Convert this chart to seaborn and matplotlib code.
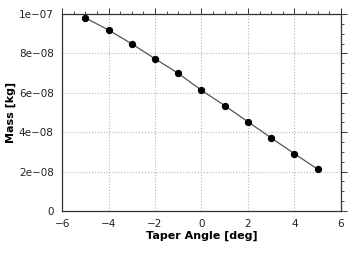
import numpy as np
import pandas as pd
import seaborn as sns
import matplotlib.pyplot as plt
from matplotlib.ticker import MultipleLocator, FuncFormatter

# taper angle sweep, mass
taper_angle = [-5, -4, -3, -2, -1, 0, 1, 2, 3, 4, 5]
mass = [9.81e-8, 9.19e-8, 8.49e-8, 7.73e-8, 6.99e-8, 6.13e-8,
        5.35e-8, 4.53e-8, 3.71e-8, 2.91e-8, 2.12e-8]
y_ticks = [0, 2e-8, 4e-8, 6e-8, 8e-8, 1e-7]
y_labels = ['0', '2e\u221208', '4e\u221208', '6e\u221208', '8e\u221208', '1e\u221207']

df = pd.DataFrame({'angle': taper_angle, 'mass': mass})

sns.set_style('white')
plt.rcParams['font.family'] = ['DejaVu Sans']

fig = plt.figure(figsize=(3.63, 2.56), dpi=100)
ax = fig.add_axes([0.171, 0.176, 0.768, 0.769])

sns.lineplot(data=df, x='angle', y='mass', ax=ax, color='#555555', linewidth=0.9,
             marker='o', markersize=4.5, markerfacecolor='black', markeredgecolor='black')

ax.set_xlim(-6, 6)
ax.set_ylim(0, 1e-7)
ax.xaxis.set_major_locator(MultipleLocator(2))
ax.xaxis.set_minor_locator(MultipleLocator(0.5))
ax.set_yticks(y_ticks)
ax.set_yticklabels(y_labels)
ax.yaxis.set_minor_locator(MultipleLocator(5e-9))
ax.xaxis.set_major_formatter(FuncFormatter(lambda v, p: f'{v:g}'.replace('-', '\u2212')))

ax.grid(True, which='major', color='#b5b5b5', linestyle=':', linewidth=0.8)
for s in ax.spines.values():
    s.set_color('#333333')
    s.set_linewidth(0.9)

ax.tick_params(which='major', direction='out', length=4, width=0.7, colors='#333333',
               labelsize=7.5, labelcolor='#222222', top=True, right=True, pad=2)
ax.tick_params(which='minor', direction='out', length=2.5, width=0.6, colors='#333333',
               top=True, right=True)
ax.tick_params(axis='x', which='both', labeltop=False)
ax.tick_params(axis='y', which='both', labelright=False)

ax.set_xlabel('Taper Angle [deg]', fontsize=8, fontweight='bold', labelpad=1, color='black')
ax.set_ylabel('Mass [kg]', fontsize=8, fontweight='bold', labelpad=2, color='black')

fig.savefig('out.png', dpi=100)
